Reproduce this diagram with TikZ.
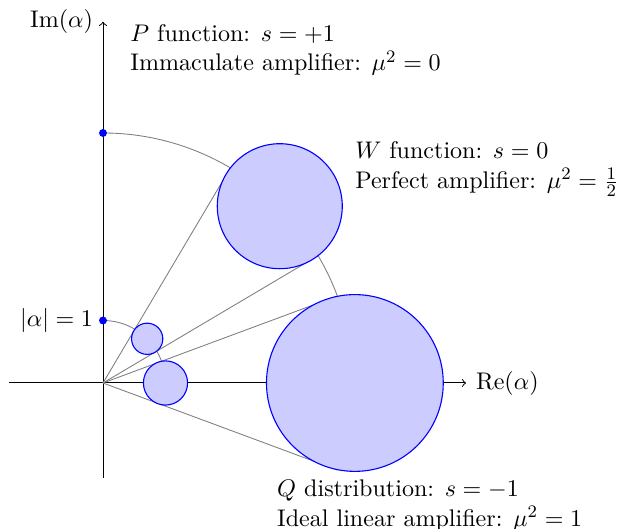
\documentclass[tikz,border=0pt]{standalone}
\usepackage{amsmath}
\begin{document}
\begin{tikzpicture}[x=1cm,y=1cm,font=\fontsize{10.95}{13.6}\selectfont,
  axis/.style={draw=black,line width=0.45pt,->},
  guide/.style={draw=gray,line width=0.4pt},
  lobe/.style={draw=blue,fill=blue!20,line width=0.5pt},
  delta/.style={circle,fill=blue,inner sep=0pt,minimum size=3.6pt},
  caption/.style={align=left,anchor=west,inner sep=0pt}]
\useasboundingbox (-1.648,-2.336) rectangle (8.32,6.128);
% points on the two reference circles |alpha|=1 and |alpha|=4
\coordinate (O) at (0,0);
\coordinate (xl) at (-1.5,0);
\coordinate (xr) at (5.81,0);
\coordinate (yb) at (0,-1.52);
\coordinate (yt) at (0,5.78);
\coordinate (p1) at (90:1);
\coordinate (p4) at (90:4);
\coordinate (wa1) at (59.36:1);
\coordinate (wb1) at (30.64:1);
\coordinate (wa4) at (59.36:4);
\coordinate (wb4) at (30.64:4);
\coordinate (qa4) at (20.36:4);
\coordinate (qb4) at (-20.36:4);
\coordinate (w1) at (45:1);
\coordinate (w4) at (45:4);
\coordinate (q1) at (0:1);
\coordinate (q4) at (0:4.03);
% axes
\draw[axis] (xl) -- (xr);
\draw[axis] (yb) -- (yt);
\node[right=1pt] (re) at (xr) {$\mathrm{Re}(\alpha)$};
\node[left=1pt] (im) at (yt) {$\mathrm{Im}(\alpha)$};
% guides
\draw[guide] (p4) arc[start angle=90,end angle=59.36,radius=4];
\draw[guide] (wb4) arc[start angle=30.64,end angle=20.36,radius=4];
\draw[guide] (p1) arc[start angle=90,end angle=59.36,radius=1];
\draw[guide] (wb1) arc[start angle=30.64,end angle=20.36,radius=1];
\draw[guide] (O) -- (wa4);
\draw[guide] (O) -- (wb4);
\draw[guide] (O) -- (qa4);
\draw[guide] (O) -- (qb4);
% W and Q spots
\draw[lobe] (w4) circle[radius=1];
\draw[lobe] (w1) circle[radius=0.25];
\draw[lobe] (q4) circle[radius=1.41421];
\draw[lobe] (q1) circle[radius=0.353553];
% P spots
\node[delta] (d4) at (p4) {};
\node[delta] (d1) at (p1) {};
\node[left=1pt] (unit) at (p1) {$|\alpha|=1$};
% captions
\node[caption] (cp) at (0.432,5.33) {$P$ function: $s=+1$\\Immaculate amplifier: $\mu^2=0$};
\node[caption] (cw) at (4.03,3.42) {$W$ function: $s=0$\\Perfect amplifier: $\mu^2=\frac{1}{2}$};
\node[caption] (cq) at (2.78,-1.96) {$Q$ distribution: $s=-1$\\Ideal linear amplifier: $\mu^2=1$};
\end{tikzpicture}
\end{document}
